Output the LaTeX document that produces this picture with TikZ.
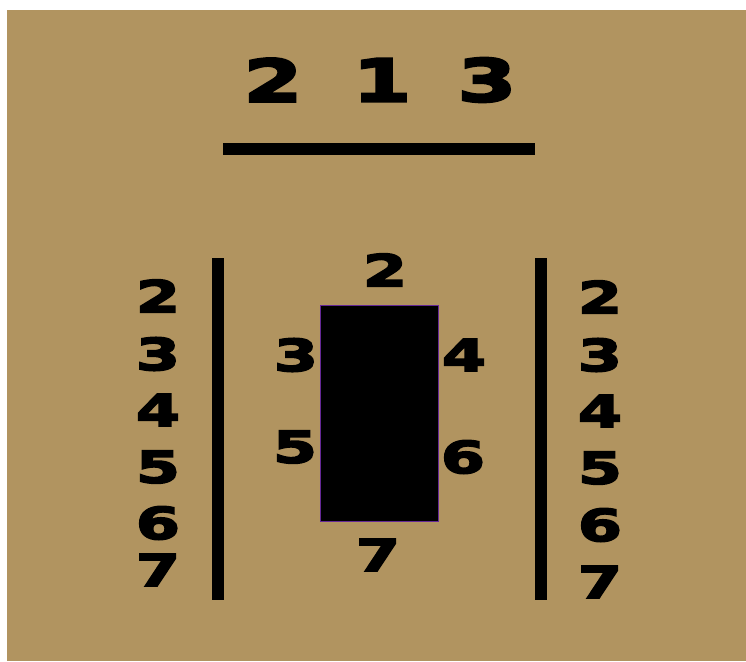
\documentclass[tikz,border=0pt]{standalone}
\usepackage{fontspec}
\newfontfamily\digitfont[FakeStretch=1.45,FakeBold=4]{DejaVu Sans Bold}
\usetikzlibrary{positioning}
\definecolor{tanbg}{RGB}{177,148,96}
\definecolor{edgepurple}{RGB}{100,40,150}

\begin{document}
\begin{tikzpicture}[
            x=0.75pt, y=-0.75pt,
            digit/.style={
                    inner sep=0pt, text=black,
                    font=\fontsize{33}{33}\digitfont
                },
            bigdigit/.style={
                    digit, font=\fontsize{44}{44}\digitfont
                },
            bar/.style={line width=8.5pt, black},
            block/.style={
                    draw=edgepurple, fill=black, line width=0.8pt,
                    minimum width=88pt, minimum height=162pt, inner sep=0pt
                }
            ]
            \useasboundingbox (0,0) rectangle (746,661);
            \fill[tanbg] (7,10) rectangle (746,661);

            % top row
            \node[bigdigit] (top2) at (273,80) {2};
            \node[bigdigit] (top1) at (382,80) {1};
            \node[bigdigit] (top3) at (487,80) {3};
            \draw[bar] (223,149) -- (535,149);

            % side bars
            \draw[bar] (218,258) -- (218,600);
            \draw[bar] (541,258) -- (541,600);

            % left column
            \node[digit] (l2) at (158,296) {2};
            \node[digit] (l3) at (158,354) {3};
            \node[digit] (l4) at (158,410) {4};
            \node[digit] (l5) at (158,467) {5};
            \node[digit] (l6) at (158,523) {6};
            \node[digit] (l7) at (158,570) {7};

            % right column
            \node[digit] (r2) at (600,297) {2};
            \node[digit] (r3) at (600,355) {3};
            \node[digit] (r4) at (600,411) {4};
            \node[digit] (r5) at (600,468) {5};
            \node[digit] (r6) at (600,525) {6};
            \node[digit] (r7) at (600,582) {7};

            % centre block
            \node[block] (blk) at (379.5,413.5) {};
            \node[digit] (c2) at (385,270) {2};
            \node[digit] (c3) at (296,355) {3};
            \node[digit] (c4) at (464,355) {4};
            \node[digit] (c5) at (295,447) {5};
            \node[digit] (c6) at (463,457) {6};
            \node[digit] (c7) at (378,555) {7};
        \end{tikzpicture}
\end{document}
